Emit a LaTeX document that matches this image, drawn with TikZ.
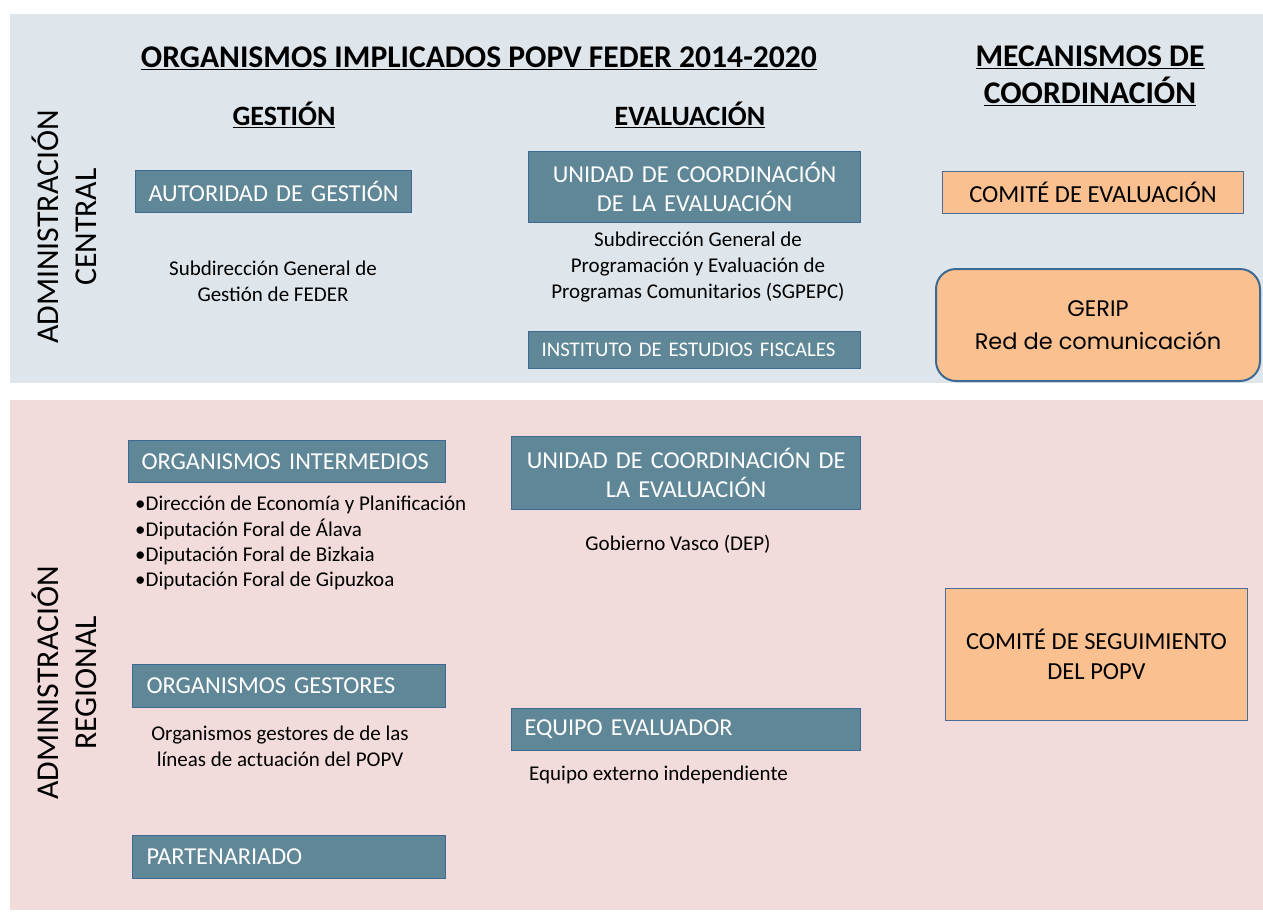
\documentclass[tikz,border=0pt]{standalone}
\usepackage{fontspec}
\setmainfont{Carlito}
\newfontfamily\gothic{Poppins}
\definecolor{topbg}{HTML}{DEE6EC}
\definecolor{botbg}{HTML}{F2DCDB}
\definecolor{teal}{HTML}{5F8797}
\definecolor{tealborder}{HTML}{3E6A92}
\definecolor{orange}{HTML}{FAC090}
\definecolor{obord}{HTML}{4A6C96}
\begin{document}
\begin{tikzpicture}[x=1pt,y=-1pt,
  tbox/.style={draw=tealborder, line width=1.2pt, fill=teal, text=white, inner sep=0pt,
    anchor=north west, font=\fontsize{24.3}{29.5}\selectfont},
  obox/.style={draw=obord, line width=1pt, fill=orange, text=black, inner sep=0pt,
    anchor=north west, font=\fontsize{24.5}{29.5}\selectfont, align=center},
  sub/.style={font=\fontsize{21}{25.6}\selectfont, align=center, inner sep=0pt},
  head/.style={font=\bfseries\fontsize{31.6}{37}\selectfont, align=center, inner sep=0pt},
  side/.style={rotate=90, font=\fontsize{31.8}{38}\selectfont, align=center, inner sep=0pt}
]
\useasboundingbox (0,0) rectangle (1263,911);
\fill[white] (0,0) rectangle (1263,911);
% backgrounds
\fill[topbg] (10,14) rectangle (1263,383);
\fill[botbg] (10,400) rectangle (1263,910);

% headings
\node[head] (title) at (479,58) {\underline{ORGANISMOS IMPLICADOS POPV FEDER 2014-2020}};
\node[head, font=\bfseries\fontsize{28}{37}\selectfont] (gest) at (284,115) {\underline{GESTIÓN}};
\node[head, font=\bfseries\fontsize{28}{37}\selectfont] (eval) at (690,115) {\underline{EVALUACIÓN}};
\node[head] (meca) at (1090,76) {\underline{MECANISMOS DE}\\\underline{COORDINACIÓN}};

% side labels
\node[side] (central) at (64,227) {ADMINISTRACIÓN\\CENTRAL};
\node[side] (regional) at (64,683) {ADMINISTRACIÓN\\REGIONAL};

% central - gestion
\node[tbox, minimum width=276, minimum height=42, text width=276, align=center] (ag) at (135,170) {AUTORIDAD DE GESTIÓN};
\node[sub] (sgf) at (273,281) {Subdirección General de\\Gestión de FEDER};

% central - evaluacion
\node[tbox, minimum width=332, minimum height=71, text width=332, align=center] (uce) at (528,151) {UNIDAD DE COORDINACIÓN\\DE LA EVALUACIÓN};
\node[sub] (sgp) at (698,267) {Subdirección General de\\Programación y Evaluación de\\Programas Comunitarios (SGPEPC)};
\node[tbox, minimum width=332, minimum height=37, text width=306, align=left, font=\fontsize{20.8}{24}\selectfont] (ief) at (528,331) {INSTITUTO DE ESTUDIOS FISCALES};

% central - mecanismos
\node[obox, minimum width=301, minimum height=42] (ce) at (942,171) {COMITÉ DE EVALUACIÓN};
\node[obox, draw=tealborder, line width=2pt, rounded corners=20pt, minimum width=324, minimum height=112,
  font=\gothic\fontsize{22.5}{33}\selectfont] (gerip) at (935,268) {GERIP\\Red de comunicación};

% regional - gestion
\node[tbox, minimum width=317, minimum height=42, text width=291, align=left] (oi) at (128,440) {ORGANISMOS INTERMEDIOS};
\node[sub, anchor=north west, align=left, font=\fontsize{21}{25.3}\selectfont] (oil) at (135,496)
  {\textbullet Dirección de Economía y Planificación\\\textbullet Diputación Foral de Álava\\\textbullet Diputación Foral de Bizkaia\\\textbullet Diputación Foral de Gipuzkoa};
\node[tbox, minimum width=313, minimum height=43, text width=285, align=left] (og) at (132,664) {ORGANISMOS GESTORES};
\node[sub] (ogl) at (280,746) {Organismos gestores de de las\\líneas de actuación del POPV};
\node[tbox, minimum width=313, minimum height=43, text width=285, align=left] (pa) at (132,835) {PARTENARIADO};

% regional - evaluacion
\node[tbox, minimum width=349, minimum height=73, text width=349, align=center] (ucr) at (511,436) {UNIDAD DE COORDINACIÓN DE\\LA EVALUACIÓN};
\node[sub] (gv) at (678,544) {Gobierno Vasco (DEP)};
\node[tbox, minimum width=349, minimum height=42, text width=323, align=left] (ee) at (511,708) {EQUIPO EVALUADOR};
\node[sub, anchor=west] (eel) at (529,775) {Equipo externo independiente};

% regional - mecanismos
\node[obox, minimum width=302, minimum height=132] (cs) at (945,588) {COMITÉ DE SEGUIMIENTO\\DEL POPV};
\end{tikzpicture}
\end{document}
